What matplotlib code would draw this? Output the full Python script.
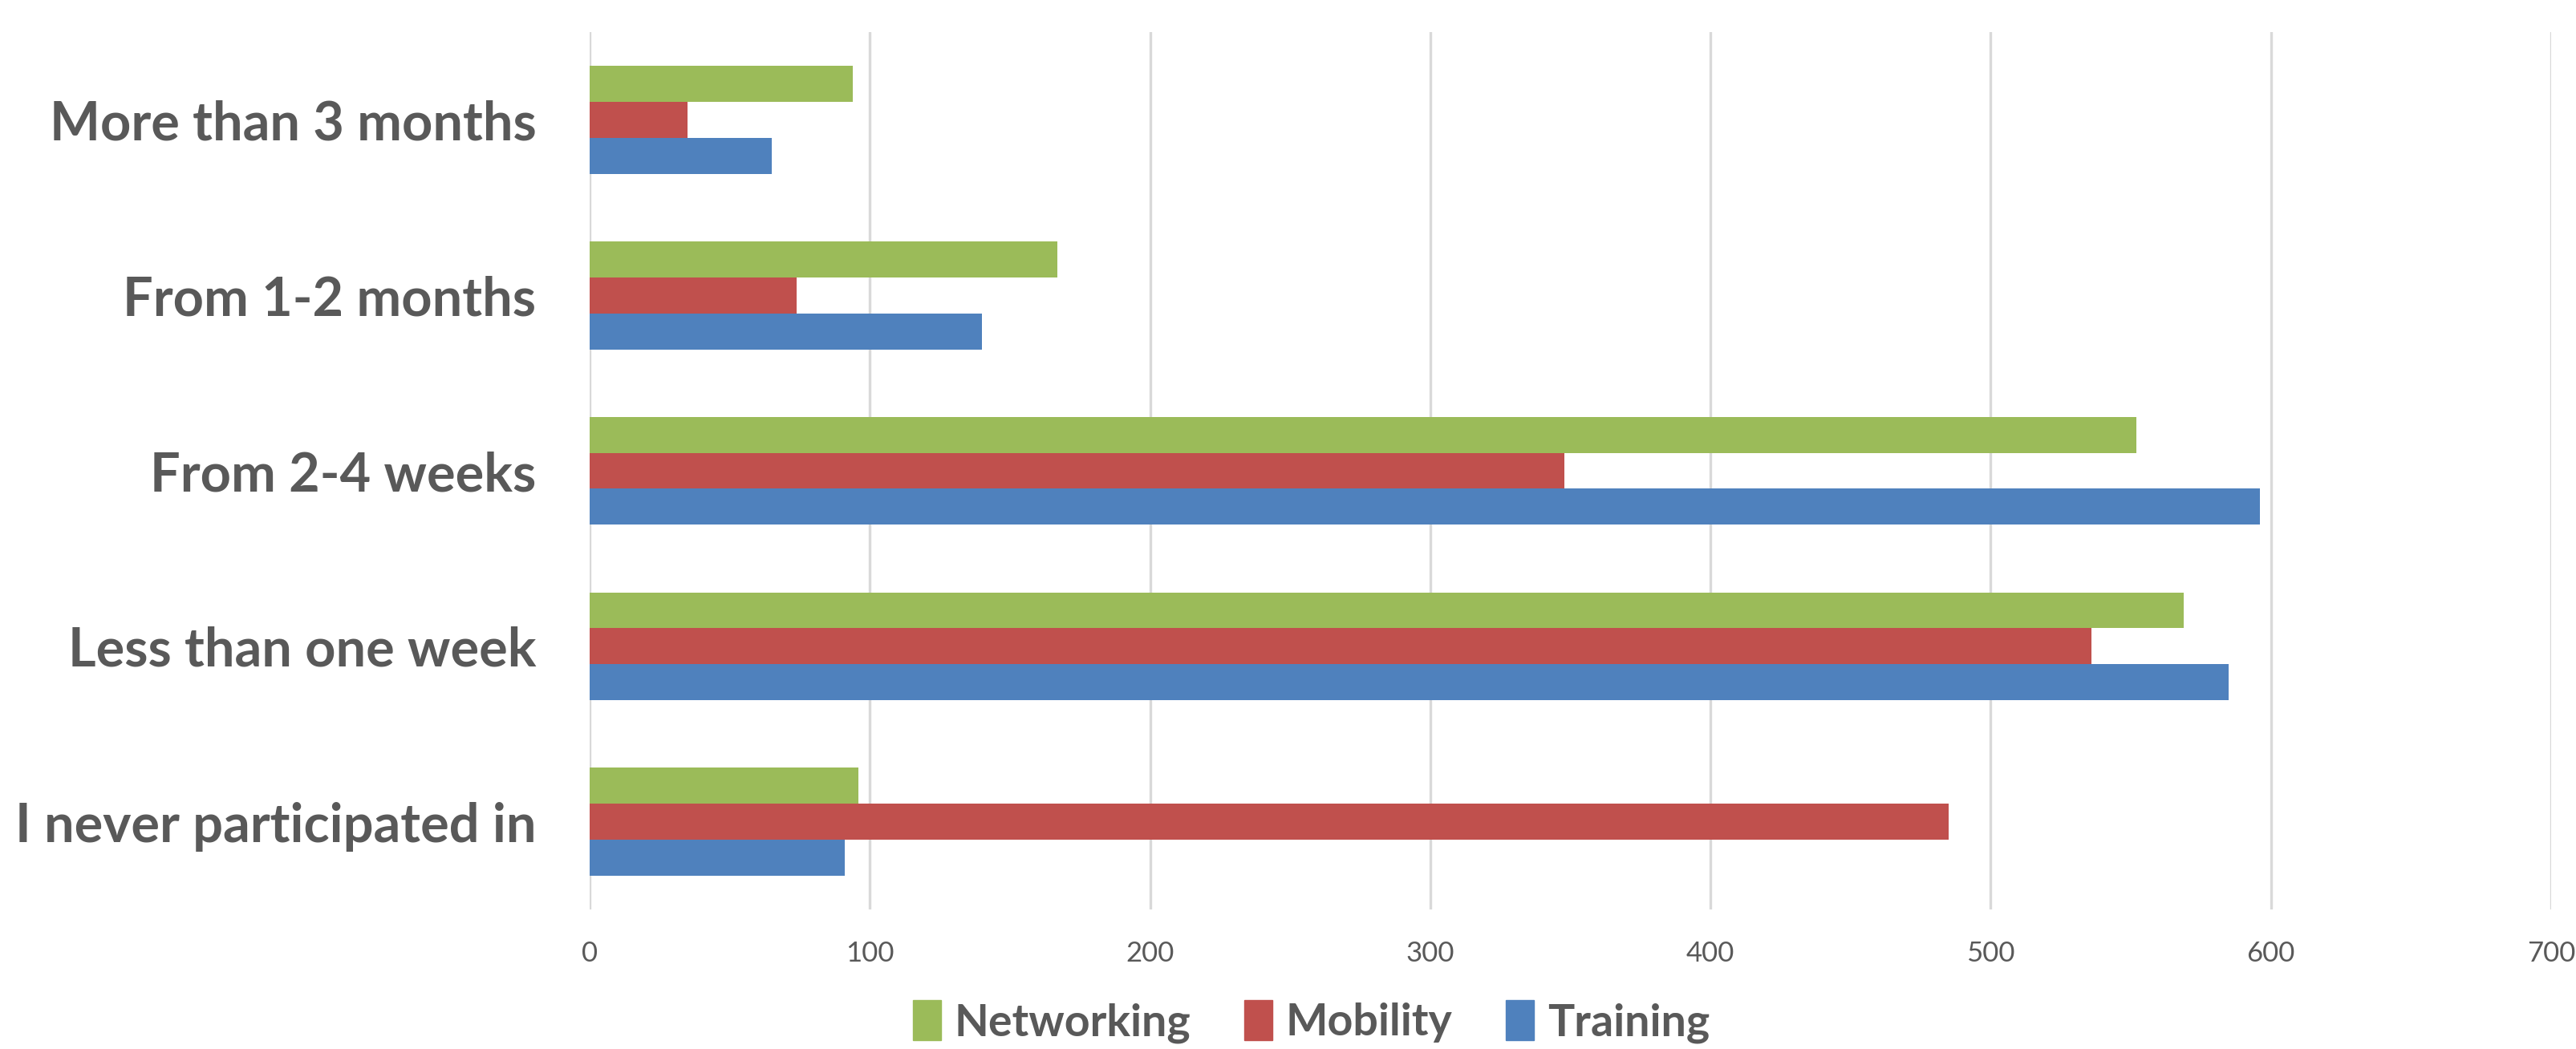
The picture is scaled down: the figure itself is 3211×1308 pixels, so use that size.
import matplotlib.pyplot as plt
from matplotlib.patches import Patch
import numpy as np

# categories listed bottom -> top as drawn
categories = ["I never participated in", "Less than one week", "From 2-4 weeks",
              "From 1-2 months", "More than 3 months"]
networking = [96, 569, 552, 167, 94]
mobility = [485, 536, 348, 74, 35]
training = [91, 585, 596, 140, 65]
x_ticks = [0, 100, 200, 300, 400, 500, 600, 700]

GREEN = "#9BBB59"
RED = "#C0504D"
BLUE = "#4F81BD"
TEXT = "#595959"

plt.rcParams["font.family"] = ["Lato", "DejaVu Sans"]

fig = plt.figure(figsize=(32.11, 13.08), dpi=100)
ax = fig.add_axes([0.2289, 0.1330, 0.7614, 0.8364])

y = np.arange(len(categories))
h = 0.205
ax.barh(y + h, networking, height=h, color=GREEN, label="Networking")
ax.barh(y, mobility, height=h, color=RED, label="Mobility")
ax.barh(y - h, training, height=h, color=BLUE, label="Training")

ax.set_xlim(0, 700)
ax.set_ylim(-0.5, len(categories) - 0.5)
ax.set_xticks(x_ticks)
ax.set_xticklabels([str(t) for t in x_ticks], fontsize=25, color=TEXT)
ax.set_yticks(y)
ax.set_yticklabels(categories, fontsize=48, fontweight="bold", color=TEXT)
ax.tick_params(axis="x", length=0, pad=28)
ax.tick_params(axis="y", length=0, pad=48)

ax.xaxis.grid(True, color="#D9D9D9", linewidth=2.4)
ax.set_axisbelow(True)
for s in ax.spines.values():
    s.set_visible(False)

handles = [Patch(color=GREEN), Patch(color=RED), Patch(color=BLUE)]
leg = fig.legend(handles, ["Networking", "Mobility", "Training"],
                 loc="center", bbox_to_anchor=(0.509, 0.026), ncol=3, frameon=False,
                 prop={"family": ["Lato", "DejaVu Sans"], "size": 40, "weight": "bold"},
                 handlelength=0.63, handleheight=1.0, handletextpad=0.3,
                 columnspacing=1.2, borderpad=0.1)
for t in leg.get_texts():
    t.set_color(TEXT)

fig.savefig("out.png", dpi=100)
